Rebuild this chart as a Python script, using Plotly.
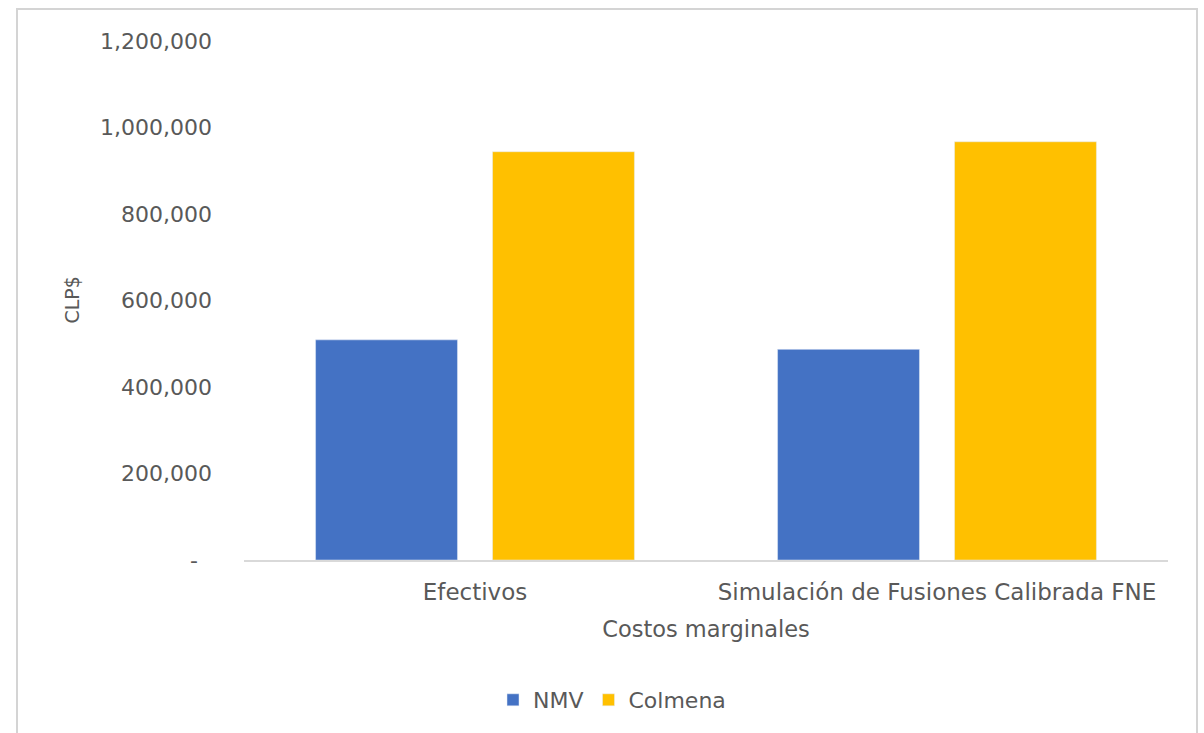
import plotly.graph_objects as go

categories = ["Efectivos", "Simulación de Fusiones Calibrada FNE"]
nmv_values = [509000, 487000]
colmena_values = [944000, 967000]
y_tick_values = [0, 200000, 400000, 600000, 800000, 1000000, 1200000]
y_tick_labels = ["-\u00a0\u00a0", "200,000", "400,000", "600,000", "800,000", "1,000,000", "1,200,000"]

FONT = "DejaVu Sans"
GRAY = "#595959"

fig = go.Figure()
fig.add_trace(go.Bar(name="NMV", x=categories, y=nmv_values, marker_color="#4472C4"))
fig.add_trace(go.Bar(name="Colmena", x=categories, y=colmena_values, marker_color="#FFC000"))

W, H = 1204, 733
L, R, T, B = 244, 36, 41, 173
pw, ph = W - L - R, H - T - B

def px_x(x):
    return (x - L) / pw

def px_y(y):
    return (H - B - y) / ph

fig.update_layout(
    width=W, height=H,
    margin=dict(l=L, r=R, t=T, b=B, autoexpand=False),
    paper_bgcolor="white", plot_bgcolor="white",
    barmode="group", bargap=0.234, bargroupgap=0.198,
    font=dict(family=FONT, size=22, color=GRAY),
    showlegend=True,
    legend=dict(orientation="h", x=px_x(612), y=px_y(700), xanchor="center", yanchor="middle",
                font=dict(family=FONT, size=22, color=GRAY), bgcolor="rgba(0,0,0,0)"),
    xaxis=dict(
        showgrid=False, showline=True, linecolor="#d9d9d9", linewidth=2,
        ticks="", ticklabelstandoff=10, tickfont=dict(family=FONT, size=23, color=GRAY),
        title=dict(text="Costos marginales", font=dict(family=FONT, size=22.5, color=GRAY), standoff=18),
        automargin=False,
    ),
    yaxis=dict(
        range=[0, 1200000], showgrid=False, showline=False, zeroline=False,
        tickvals=y_tick_values, ticktext=y_tick_labels, ticks="", ticklabelstandoff=31,
        tickfont=dict(family=FONT, size=22, color=GRAY),
        automargin=False,
    ),
    annotations=[dict(text="CLP$", xref="paper", yref="paper", x=px_x(71), y=0.5,
                      xanchor="center", yanchor="middle", textangle=-90, showarrow=False,
                      font=dict(family=FONT, size=19, color=GRAY))],
    shapes=[dict(type="rect", xref="paper", yref="paper",
                 x0=px_x(17), x1=px_x(1197), y0=px_y(760), y1=px_y(9),
                 line=dict(color="#d4d4d4", width=2), fillcolor="rgba(0,0,0,0)", layer="below")],
)

fig.write_html("out.html")
